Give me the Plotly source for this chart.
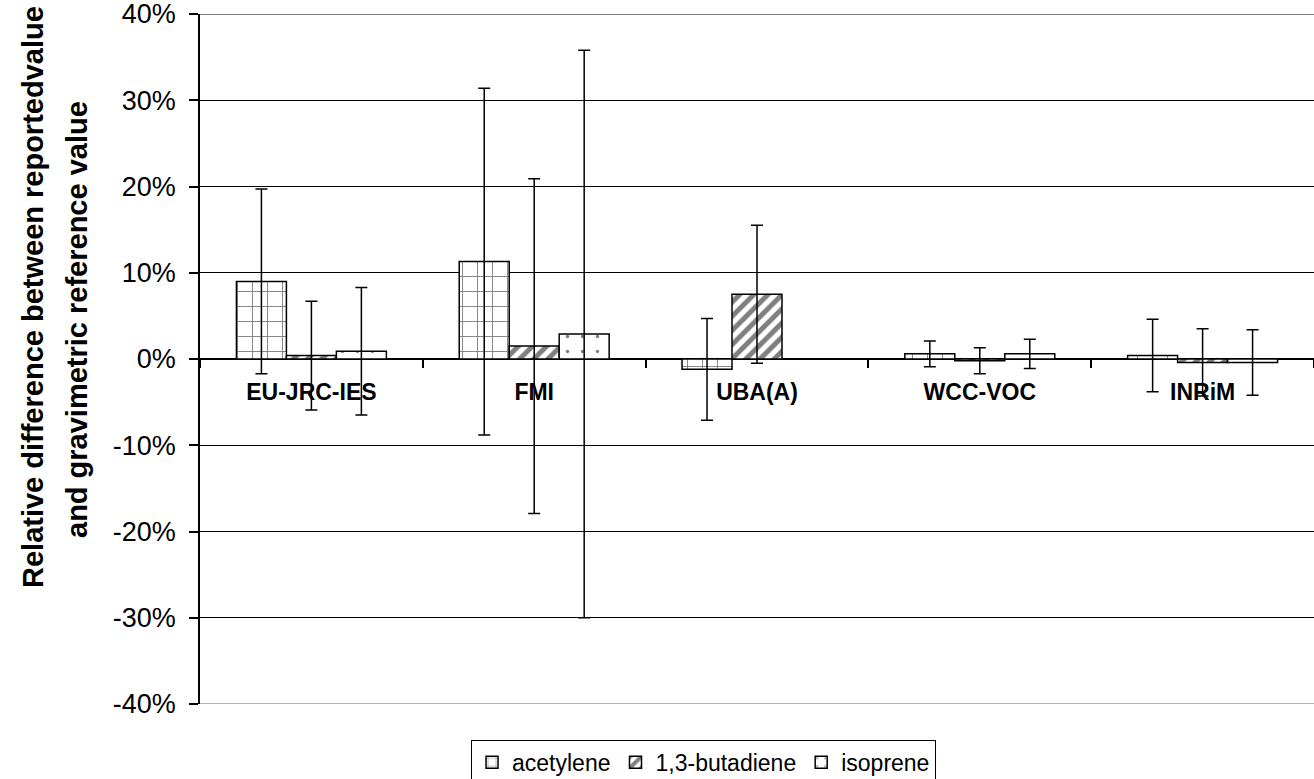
import plotly.graph_objects as go

categories = ["EU-JRC-IES", "FMI", "UBA(A)", "WCC-VOC", "INRiM"]
acetylene = [9.0, 11.3, -1.2, 0.6, 0.4]
acetylene_err = [10.7, 20.1, 5.9, 1.5, 4.2]
butadiene = [0.4, 1.5, 7.5, -0.2, -0.4]
butadiene_err = [6.3, 19.4, 8.0, 1.5, 3.9]
isoprene = [0.9, 2.9, None, 0.6, -0.4]
isoprene_err = [7.4, 32.9, None, 1.7, 3.8]
series_names = ["acetylene", "1,3-butadiene", "isoprene"]
y_ticks = [-40, -30, -20, -10, 0, 10, 20, 30, 40]
y_tick_labels = ["-40%", "-30%", "-20%", "-10%", "0%", "10%", "20%", "30%", "40%"]
y_range = [-40, 40]

FONT = "Liberation Sans, Arial, sans-serif"

def err(arr):
    return dict(type="data", array=arr, visible=True, color="black", thickness=1.5, width=6)

fig = go.Figure()
fig.add_trace(go.Bar(
    name=series_names[0], x=categories, y=acetylene, error_y=err(acetylene_err),
    marker=dict(color="white", line=dict(color="black", width=1.5),
                pattern=dict(shape="+", size=15, solidity=0.12, fgcolor="black", bgcolor="white")),
))
fig.add_trace(go.Bar(
    name=series_names[1], x=categories, y=butadiene, error_y=err(butadiene_err),
    marker=dict(color="white", line=dict(color="black", width=1.5),
                pattern=dict(shape="/", size=10, solidity=0.5, fgcolor="black", bgcolor="white")),
))
fig.add_trace(go.Bar(
    name=series_names[2], x=categories, y=isoprene, error_y=err(isoprene_err),
    marker=dict(color="white", line=dict(color="black", width=1.5),
                pattern=dict(shape=".", size=15, solidity=0.04, fgcolor="black", bgcolor="white")),
))

fig.update_layout(
    width=1314, height=779,
    margin=dict(l=200, r=0, t=14, b=75, autoexpand=False),
    paper_bgcolor="white", plot_bgcolor="white",
    barmode="group", bargap=0.327, bargroupgap=0,
    font=dict(family=FONT, color="black"),
    showlegend=True,
    legend=dict(orientation="h", x=0.452, xanchor="center", y=-0.052, yanchor="top",
                bordercolor="black", borderwidth=1, font=dict(size=23, family=FONT),
                itemwidth=30, tracegroupgap=0, bgcolor="white"),
    xaxis=dict(anchor="free", position=0.5, showline=False, showgrid=False, automargin=False,
               ticks="outside", tickson="boundaries", ticklen=8, tickcolor="black", tickwidth=1.5,
               tickfont=dict(size=23, family=FONT, color="black", weight="bold"),
               ticklabelstandoff=17),
    yaxis=dict(range=y_range, tickvals=y_ticks, ticktext=y_tick_labels, automargin=False,
               ticklabeloverflow="allow",
               showgrid=True, gridcolor="black", gridwidth=1,
               zeroline=True, zerolinecolor="black", zerolinewidth=1.5,
               showline=True, linecolor="black", linewidth=1.5,
               ticks="outside", ticklen=9, tickcolor="black", tickwidth=1.5,
               tickfont=dict(size=27, family=FONT, color="black"), ticklabelstandoff=8),
)

# frame lines at the top and bottom of the value range (gridlines at the range edges)
fig.add_shape(type="line", xref="paper", yref="y", x0=0, x1=1, y0=y_range[1], y1=y_range[1],
              line=dict(color="black", width=1), layer="below")
fig.add_shape(type="line", xref="paper", yref="y", x0=0, x1=1, y0=y_range[0], y1=y_range[0],
              line=dict(color="#9a9a9a", width=1.5), layer="below")

fig.add_annotation(text="Relative difference between reportedvalue", textangle=-90,
                   xref="paper", yref="paper", x=(33 - 200) / 1114, y=(704 - 297) / 690,
                   xanchor="center", yanchor="middle", showarrow=False,
                   font=dict(size=29, family=FONT, color="black", weight="bold"))
fig.add_annotation(text="and gravimetric reference value", textangle=-90,
                   xref="paper", yref="paper", x=(77 - 200) / 1114, y=(704 - 320) / 690,
                   xanchor="center", yanchor="middle", showarrow=False,
                   font=dict(size=29, family=FONT, color="black", weight="bold"))

fig.write_html("out.html", config={"displayModeBar": False},
               post_script="document.body.style.margin='0';document.body.style.overflow='hidden';")
